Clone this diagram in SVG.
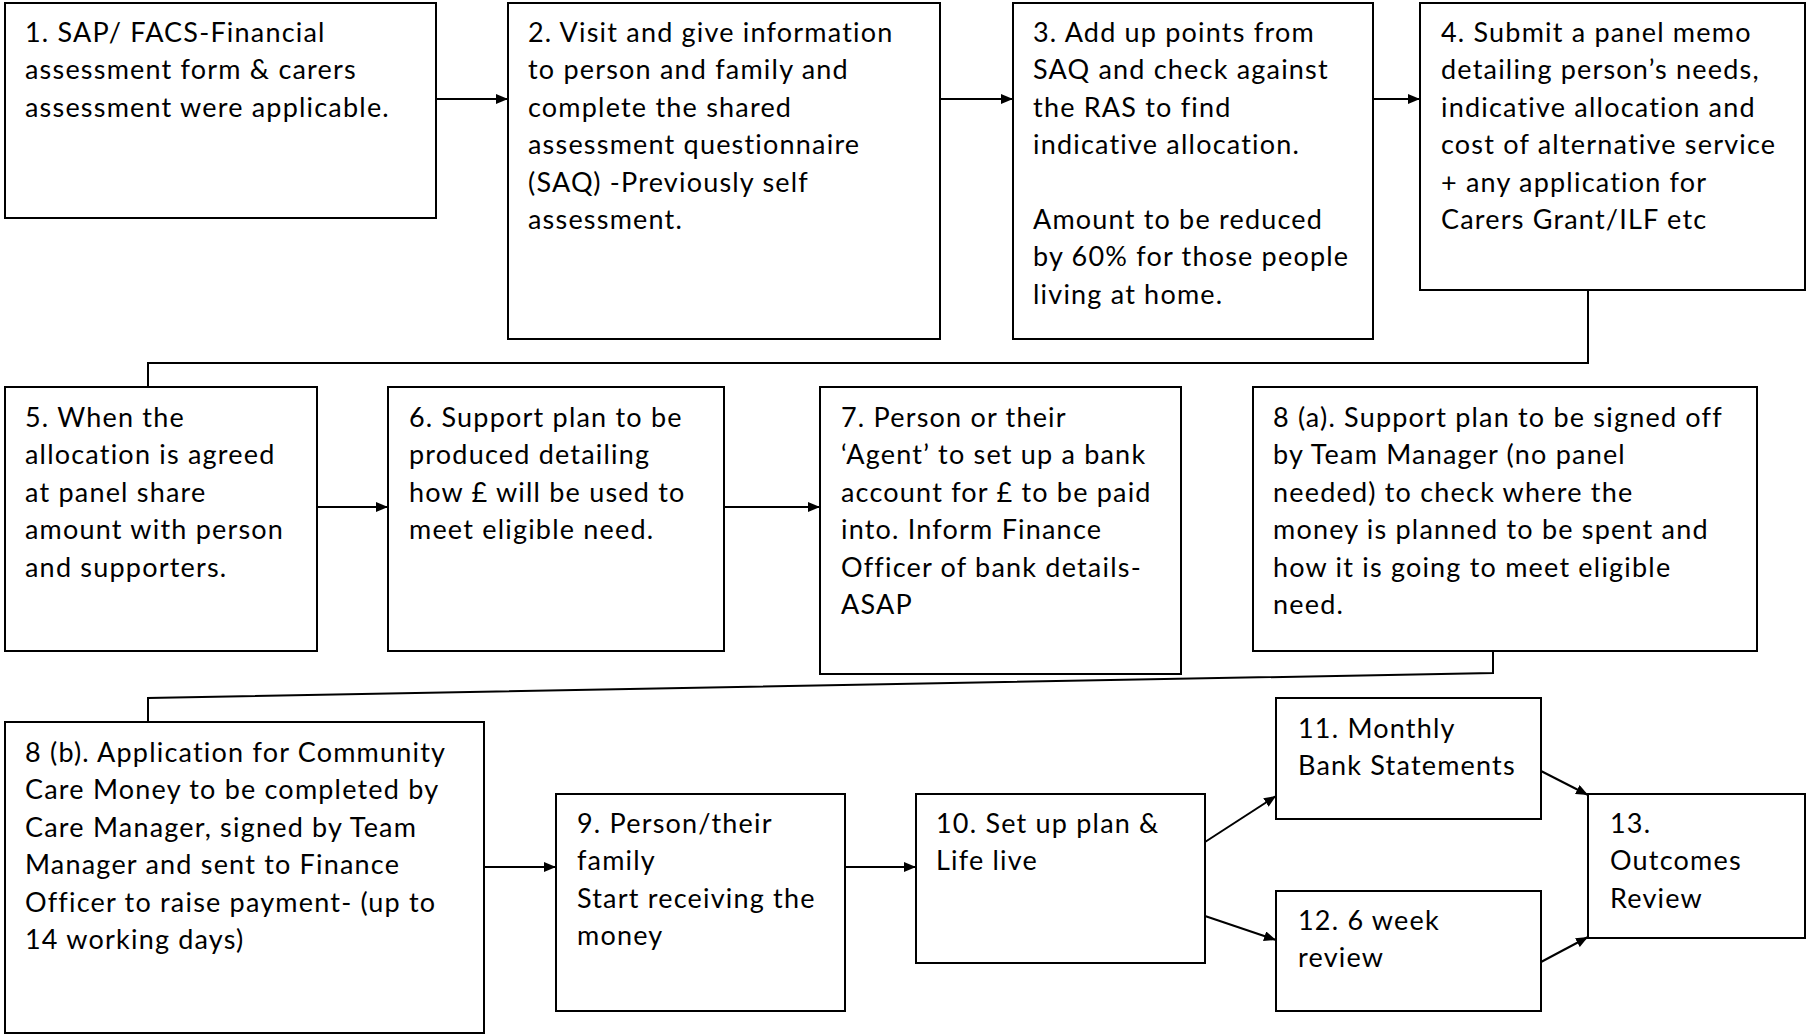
<svg xmlns="http://www.w3.org/2000/svg" width="1807" height="1034" viewBox="0 0 1807 1034">
<defs>
<style>
.box{fill:#fff;stroke:#000;stroke-width:2}
.t{font-family:Lato,"Open Sans","Liberation Sans",sans-serif;font-size:27px;letter-spacing:1.2px;fill:#000}
.c{fill:none;stroke:#000;stroke-width:2}
</style>
<marker id="ah" viewBox="0 0 12 10" refX="12" refY="5" markerWidth="12" markerHeight="10" markerUnits="userSpaceOnUse" orient="auto">
<path d="M0,0 L12,5 L0,10 Z" fill="#000"/>
</marker>
</defs>
<rect width="1807" height="1034" fill="#fff"/>
<g id="connectors">
<line class="c" x1="437" y1="99" x2="508" y2="99" marker-end="url(#ah)"/>
<line class="c" x1="941" y1="99" x2="1013" y2="99" marker-end="url(#ah)"/>
<line class="c" x1="1373" y1="99" x2="1420" y2="99" marker-end="url(#ah)"/>
<polyline class="c" points="1588,290 1588,363 148,363 148,387"/>
<line class="c" x1="317" y1="507" x2="388" y2="507" marker-end="url(#ah)"/>
<line class="c" x1="724" y1="507" x2="820" y2="507" marker-end="url(#ah)"/>
<polyline class="c" points="1493,651 1493,673 148,698 148,722"/>
<line class="c" x1="484" y1="867" x2="556" y2="867" marker-end="url(#ah)"/>
<line class="c" x1="845" y1="867" x2="916" y2="867" marker-end="url(#ah)"/>
<line class="c" x1="1205" y1="842" x2="1276" y2="796" marker-end="url(#ah)"/>
<line class="c" x1="1205" y1="916" x2="1276" y2="940" marker-end="url(#ah)"/>
<line class="c" x1="1541" y1="771" x2="1588" y2="795" marker-end="url(#ah)"/>
<line class="c" x1="1541" y1="962" x2="1588" y2="937" marker-end="url(#ah)"/>
</g>
<g id="n1"><rect class="box" x="5" y="3" width="431" height="215"/>
<text class="t" x="25" y="42">1. SAP/ FACS-Financial</text>
<text class="t" x="25" y="79">assessment form &amp; carers</text>
<text class="t" x="25" y="117">assessment were applicable.</text></g>
<g id="n2"><rect class="box" x="508" y="3" width="432" height="336"/>
<text class="t" x="528" y="42">2. Visit and give information</text>
<text class="t" x="528" y="79">to person and family and</text>
<text class="t" x="528" y="117">complete the shared</text>
<text class="t" x="528" y="154">assessment questionnaire</text>
<text class="t" x="528" y="192">(SAQ) -Previously self</text>
<text class="t" x="528" y="229">assessment.</text></g>
<g id="n3"><rect class="box" x="1013" y="3" width="360" height="336"/>
<text class="t" x="1033" y="42">3. Add up points from</text>
<text class="t" x="1033" y="79">SAQ and check against</text>
<text class="t" x="1033" y="117">the RAS to find</text>
<text class="t" x="1033" y="154">indicative allocation.</text>
<text class="t" x="1033" y="229">Amount to be reduced</text>
<text class="t" x="1033" y="266">by 60% for those people</text>
<text class="t" x="1033" y="304">living at home.</text></g>
<g id="n4"><rect class="box" x="1420" y="3" width="385" height="287"/>
<text class="t" x="1441" y="42">4. Submit a panel memo</text>
<text class="t" x="1441" y="79">detailing person’s needs,</text>
<text class="t" x="1441" y="117">indicative allocation and</text>
<text class="t" x="1441" y="154">cost of alternative service</text>
<text class="t" x="1441" y="192">+ any application for</text>
<text class="t" x="1441" y="229">Carers Grant/ILF etc</text></g>
<g id="n5"><rect class="box" x="5" y="387" width="312" height="264"/>
<text class="t" x="25" y="427">5. When the</text>
<text class="t" x="25" y="464">allocation is agreed</text>
<text class="t" x="25" y="502">at panel share</text>
<text class="t" x="25" y="539">amount with person</text>
<text class="t" x="25" y="577">and supporters.</text></g>
<g id="n6"><rect class="box" x="388" y="387" width="336" height="264"/>
<text class="t" x="409" y="427">6. Support plan to be</text>
<text class="t" x="409" y="464">produced detailing</text>
<text class="t" x="409" y="502">how £ will be used to</text>
<text class="t" x="409" y="539">meet eligible need.</text></g>
<g id="n7"><rect class="box" x="820" y="387" width="361" height="287"/>
<text class="t" x="841" y="427">7. Person or their</text>
<text class="t" x="841" y="464">‘Agent’ to set up a bank</text>
<text class="t" x="841" y="502">account for £ to be paid</text>
<text class="t" x="841" y="539">into. Inform Finance</text>
<text class="t" x="841" y="577">Officer of bank details-</text>
<text class="t" x="841" y="614">ASAP</text></g>
<g id="n8a"><rect class="box" x="1253" y="387" width="504" height="264"/>
<text class="t" x="1273" y="427">8 (a). Support plan to be signed off</text>
<text class="t" x="1273" y="464">by Team Manager (no panel</text>
<text class="t" x="1273" y="502">needed) to check where the</text>
<text class="t" x="1273" y="539">money is planned to be spent and</text>
<text class="t" x="1273" y="577">how it is going to meet eligible</text>
<text class="t" x="1273" y="614">need.</text></g>
<g id="n8b"><rect class="box" x="5" y="722" width="479" height="311"/>
<text class="t" x="25" y="762">8 (b). Application for Community</text>
<text class="t" x="25" y="799">Care Money to be completed by</text>
<text class="t" x="25" y="837">Care Manager, signed by Team</text>
<text class="t" x="25" y="874">Manager and sent to Finance</text>
<text class="t" x="25" y="912">Officer to raise payment- (up to</text>
<text class="t" x="25" y="949">14 working days)</text></g>
<g id="n9"><rect class="box" x="556" y="794" width="289" height="217"/>
<text class="t" x="577" y="833">9. Person/their</text>
<text class="t" x="577" y="870">family</text>
<text class="t" x="577" y="908">Start receiving the</text>
<text class="t" x="577" y="945">money</text></g>
<g id="n10"><rect class="box" x="916" y="794" width="289" height="169"/>
<text class="t" x="936" y="833">10. Set up plan &amp;</text>
<text class="t" x="936" y="870">Life live</text></g>
<g id="n11"><rect class="box" x="1276" y="698" width="265" height="121"/>
<text class="t" x="1298" y="738">11. Monthly</text>
<text class="t" x="1298" y="775">Bank Statements</text></g>
<g id="n12"><rect class="box" x="1276" y="891" width="265" height="120"/>
<text class="t" x="1298" y="930">12. 6 week</text>
<text class="t" x="1298" y="967">review</text></g>
<g id="n13"><rect class="box" x="1588" y="794" width="217" height="144"/>
<text class="t" x="1610" y="833">13.</text>
<text class="t" x="1610" y="870">Outcomes</text>
<text class="t" x="1610" y="908">Review</text></g>
</svg>
